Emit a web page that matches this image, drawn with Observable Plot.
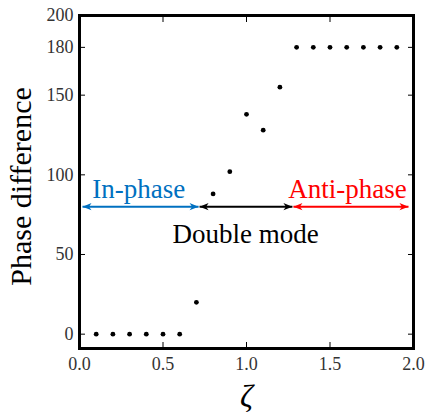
<!DOCTYPE html>
<html>
<head>
<meta charset="utf-8">
<script src="https://cdn.jsdelivr.net/npm/d3@7"></script>
<script src="https://cdn.jsdelivr.net/npm/@observablehq/plot@0.6"></script>
<style>
  html, body { margin: 0; padding: 0; background: #fff; }
  #chart svg { display: block; }
</style>
</head>
<body>
<div id="chart"></div>
<script>
// Data
const zeta  = [0.1, 0.2, 0.3, 0.4, 0.5, 0.6, 0.7, 0.8, 0.9, 1.0, 1.1, 1.2, 1.3, 1.4, 1.5, 1.6, 1.7, 1.8, 1.9];
const phase = [0, 0, 0, 0, 0, 0, 20, 88, 102, 138, 128, 155, 180, 180, 180, 180, 180, 180, 180];

const xTicks = [0, 0.5, 1.0, 1.5, 2.0];
const yTicks = [0, 50, 100, 150, 180, 200];
const xInnerTicks = [0.5, 1.0, 1.5];
const yInnerTicks = [0, 50, 100, 150, 180];

// Regime ranges (double arrows) and labels
const regimeNames  = ["In-phase", "Double mode", "Anti-phase"];
const regimeStart  = [0.018, 0.719, 1.281];
const regimeEnd    = [0.713, 1.275, 1.97];
const regimeLevel  = [80, 80, 80];
const regimeColors = ["#0070C0", "#000000", "#FF0000"];
const labelX       = [0.355, 0.995, 1.605];
const labelY       = [91, 62.5, 91];

const regimes = regimeNames.map((name, i) => ({
  name, x1: regimeStart[i], x2: regimeEnd[i], y: regimeLevel[i],
  color: regimeColors[i], lx: labelX[i], ly: labelY[i]
}));

const headRight = {
  draw(ctx) { ctx.moveTo(0, 0); ctx.lineTo(-9, -3.6); ctx.lineTo(-6.5, 0); ctx.lineTo(-9, 3.6); ctx.closePath(); }
};
const headLeft = {
  draw(ctx) { ctx.moveTo(0, 0); ctx.lineTo(9, -3.6); ctx.lineTo(6.5, 0); ctx.lineTo(9, 3.6); ctx.closePath(); }
};

const font = "Liberation Serif";

const chart = Plot.plot({
  width: 425,
  height: 414,
  marginLeft: 79,
  marginRight: 12,
  marginTop: 15,
  marginBottom: 66,
  x: { domain: [0, 2] },
  y: { domain: [-9, 200] },
  marks: [
    // tick labels
    Plot.axisX({ ticks: xTicks, tickFormat: d3.format(".1f"), tickSize: 0, tickPadding: 9, fontSize: 18, fontFamily: font, label: null, fill: "#333" }),
    Plot.axisY({ ticks: yTicks, tickFormat: d => String(d), tickSize: 0, tickPadding: 6, fontSize: 18, fontFamily: font, label: null, fill: "#333" }),
    // inward ticks
    Plot.axisX({ anchor: "bottom", ticks: xInnerTicks, tickSize: -6, text: null, label: null }),
    Plot.axisX({ anchor: "top", ticks: xInnerTicks, tickSize: -6, text: null, label: null }),
    Plot.axisY({ anchor: "left", ticks: yInnerTicks, tickSize: -6, text: null, label: null }),
    Plot.axisY({ anchor: "right", ticks: yInnerTicks, tickSize: -6, text: null, label: null }),
    Plot.frame({ stroke: "#000", strokeWidth: 3 }),
    // data
    Plot.dot(zeta, { x: d => d, y: phase, r: 2.4, fill: "#000", stroke: null }),
    // regime arrows
    Plot.link(regimes, { x1: "x1", x2: "x2", y1: "y", y2: "y", stroke: "color", strokeWidth: 2 }),
    Plot.dot(regimes, { x: "x1", y: "y", symbol: headLeft, fill: "color", stroke: null, r: 4 }),
    Plot.dot(regimes, { x: "x2", y: "y", symbol: headRight, fill: "color", stroke: null, r: 4 }),
    Plot.text(regimes, { x: "lx", y: "ly", text: "name", fill: "color", fontSize: 27, fontFamily: font }),
    // axis titles
    Plot.text(["Phase difference"], { frameAnchor: "left", textAnchor: "middle", lineAnchor: "middle", rotate: -90, dx: -58, dy: 4.5, fontSize: 30, fontFamily: font, fill: "#000" }),
    Plot.text(["ζ"], { frameAnchor: "bottom", textAnchor: "middle", lineAnchor: "middle", dy: 48, fontSize: 32, fontStyle: "italic", fontFamily: font, fill: "#000" })
  ]
});
chart.setAttribute("font-family", font);
document.getElementById("chart").appendChild(chart);
</script>
</body>
</html>
